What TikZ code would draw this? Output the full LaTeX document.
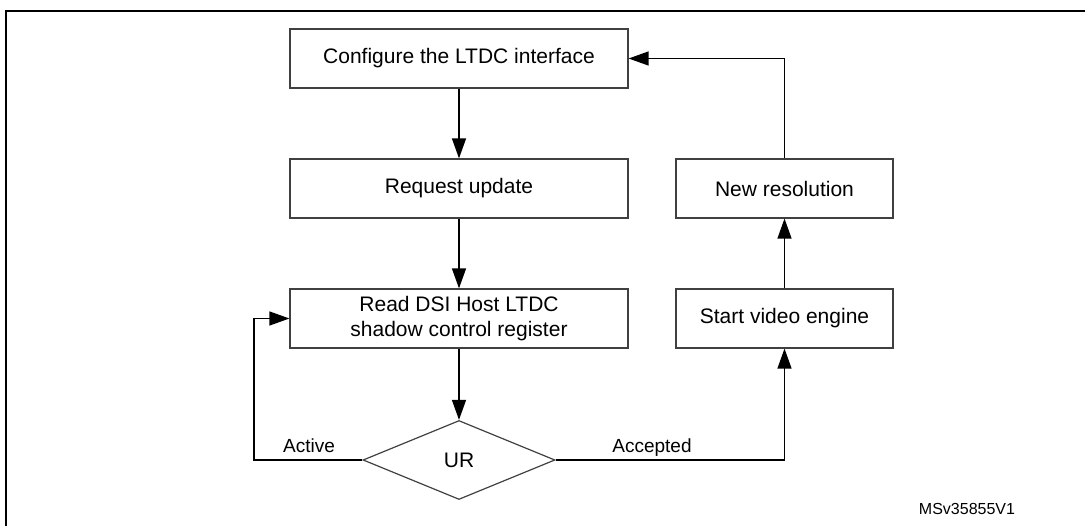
\documentclass[tikz,border=0pt]{standalone}
\usepackage{fontspec}
\setmainfont{Liberation Sans}
\usetikzlibrary{arrows.meta,shapes.geometric}
\begin{document}
\begin{tikzpicture}[x=1pt,y=-1pt,
  box/.style={draw=black!75,line width=1.2pt,minimum height=59pt,inner sep=0pt,font=\fontsize{21}{25}\selectfont,align=center},
  arr/.style={line width=1.3pt,-{Triangle[length=20pt,width=14pt]}},
  lab/.style={font=\fontsize{19}{22}\selectfont}]
\useasboundingbox (0,0) rectangle (1085,526);
\draw[line width=2.2pt] (6,560) -- (6,11) -- (1100,11);
\node[box,minimum width=338pt] (cfg) at (459,58.5) {Configure the LTDC interface};
\node[box,minimum width=338pt] (req) at (459,188.5) {Request update};
\node[box,minimum width=338pt] (rd) at (459,318.5) {Read DSI Host LTDC\\shadow control register};
\node[draw=black!75,line width=1.2pt,diamond,aspect=2.43,minimum width=192pt,minimum height=79pt,inner sep=0pt,font=\fontsize{21}{25}\selectfont] (ur) at (459,460) {UR};
\node[box,minimum width=217pt] (nr) at (784.5,188.5) {New resolution};
\node[box,minimum width=217pt] (sv) at (784.5,318.5) {Start video engine};
\coordinate (la) at (254,460);
\coordinate (ra) at (784.5,460);
\coordinate (tp) at (784.5,58.5);
\draw[arr] (cfg) -- (req);
\draw[arr] (req) -- (rd);
\draw[arr] (rd) -- (ur);
\draw[arr] (ur.west) -- (la) |- (rd.west);
\draw[arr] (ur.east) -- (ra) -- (sv.south);
\draw[arr] (sv) -- (nr);
\draw[arr] (nr.north) -- (tp) -- (cfg.east);
\node[lab,anchor=base] (act) at (309,453) {Active};
\node[lab,anchor=base] (acc) at (652,453) {Accepted};
\node[font=\fontsize{16}{19}\selectfont] (ms) at (967,509) {MSv35855V1};
\end{tikzpicture}
\end{document}
